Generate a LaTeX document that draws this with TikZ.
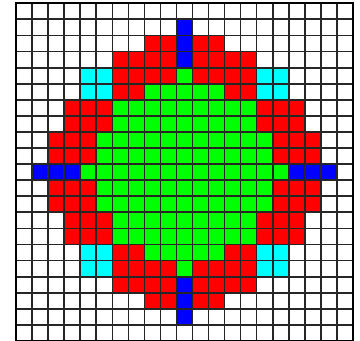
\documentclass[tikz,border=0pt]{standalone}
\definecolor{cred}{RGB}{255,0,0}
\definecolor{cgreen}{RGB}{0,255,0}
\definecolor{cblue}{RGB}{0,0,255}
\definecolor{ccyan}{RGB}{0,255,255}
\begin{document}
\begin{tikzpicture}[x=1pt,y=-1pt,
  gridline/.style={draw=black!85,line width=1.8pt},
  frameline/.style={draw=black,line width=2pt}]
\useasboundingbox (0,0) rectangle (360,341);
\def\csx{16.02}
\def\csy{16.08}
\def\ox{16.3}
\def\oy{3.3}
\newcommand\mycell[3]{\fill[#1] ({\ox+#2*\csx},{\oy+#3*\csy}) rectangle ++(\csx,\csy);}
% red cells: row/from/to
\foreach \r/\a/\b in {2/8/9,2/11/12,3/6/9,3/11/14,4/6/9,4/11/14,5/6/7,5/13/14,
  6/3/5,6/15/17,7/3/5,7/15/17,8/2/4,8/16/18,9/2/4,9/16/18,
  11/2/4,11/16/18,12/2/4,12/16/18,13/3/5,13/15/17,14/3/5,14/15/17,
  15/6/7,15/13/14,16/6/9,16/11/14,17/6/9,17/11/14,18/8/9,18/11/12}
  {\foreach \c in {\a,...,\b}{\mycell{cred}{\c}{\r}}}
% green cells
\foreach \r/\a/\b in {4/10/10,5/8/12,6/6/14,7/6/14,8/5/15,9/5/15,10/4/16,
  11/5/15,12/5/15,13/6/14,14/6/14,15/8/12,16/10/10}
  {\foreach \c in {\a,...,\b}{\mycell{cgreen}{\c}{\r}}}
% blue cells
\foreach \c/\r in {10/1,10/2,10/3,10/17,10/18,10/19,1/10,2/10,3/10,17/10,18/10,19/10}
  {\mycell{cblue}{\c}{\r}}
% cyan cells
\foreach \c/\r in {4/4,5/4,4/5,5/5,15/4,16/4,15/5,16/5,4/15,5/15,4/16,5/16,15/15,16/15,15/16,16/16}
  {\mycell{ccyan}{\c}{\r}}
% grid
\foreach \i in {0,...,21}{
  \draw[gridline] ({\ox+\i*\csx},\oy) -- ({\ox+\i*\csx},{\oy+21*\csy});
  \draw[gridline] (\ox,{\oy+\i*\csy}) -- ({\ox+21*\csx},{\oy+\i*\csy});
}
\draw[frameline] (\ox,\oy) rectangle ({\ox+21*\csx},{\oy+21*\csy});
\end{tikzpicture}
\end{document}
